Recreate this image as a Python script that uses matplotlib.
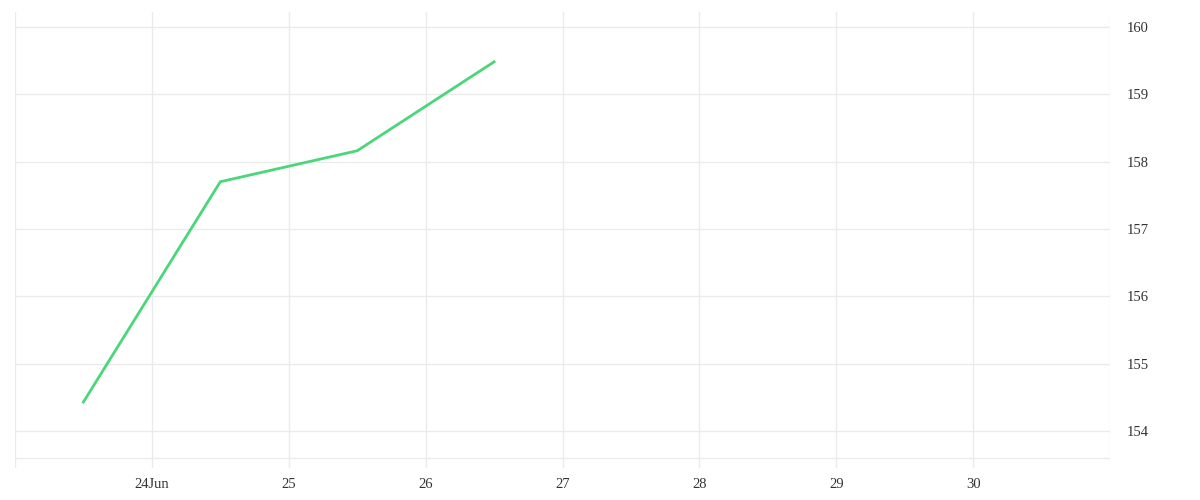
import matplotlib
matplotlib.use("Agg")
import matplotlib.pyplot as plt
import matplotlib.dates as mdates
import numpy as np
from datetime import datetime

dates = ["2024-06-23 12:00", "2024-06-24 12:00", "2024-06-25 12:00", "2024-06-26 12:00"]
values = [154.43, 157.70, 158.16, 159.48]
tick_days = ["2024-06-23", "2024-06-24", "2024-06-25", "2024-06-26", "2024-06-27",
             "2024-06-28", "2024-06-29", "2024-06-30", "2024-07-01"]
tick_labels = ["", "24Jun", "25", "26", "27", "28", "29", "30", ""]
y_ticks = [154, 155, 156, 157, 158, 159, 160]

plt.rcParams['font.family'] = ['Liberation Serif', 'DejaVu Serif']

fig = plt.figure(figsize=(12, 5), dpi=100)
ax = fig.add_axes([0.0125, 0.064, 0.9125, 0.912])

x = [mdates.date2num(datetime.fromisoformat(d)) for d in dates]
tx = [mdates.date2num(datetime.fromisoformat(d)) for d in tick_days]

ax.plot(x, values, color="#4cd67a", linewidth=2, solid_joinstyle="miter", zorder=3)

ax.set_xlim(tx[0], tx[-1])
ax.set_ylim(153.45, 160.22)
ax.set_xticks(tx)
ax.set_xticklabels(tick_labels)
ax.set_yticks(y_ticks)
ax.yaxis.tick_right()
ax.axhline(153.6, color="#ebebeb", linewidth=1, zorder=1)

ax.grid(True, color="#ebebeb", linewidth=1, zorder=1)
for s in ax.spines.values():
    s.set_visible(False)
ax.tick_params(axis="x", length=0, pad=7, labelsize=10.5, labelcolor="#333333")
ax.tick_params(axis="y", length=0, pad=12, labelsize=10.5, labelcolor="#333333")

fig.savefig("out.png", dpi=100, facecolor="white")
